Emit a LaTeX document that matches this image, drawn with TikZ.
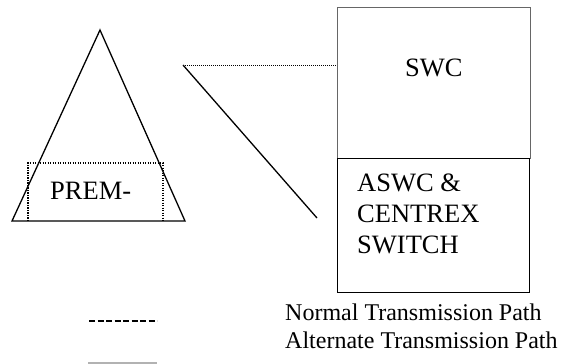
\documentclass[tikz,border=0pt]{standalone}
\usepackage{fontspec}
\setmainfont{Liberation Serif}
\begin{document}
\begin{tikzpicture}[x=1pt,y=-1pt,
  solidline/.style={line width=1.3pt,black},
  dotline/.style={line width=1.2pt,dash pattern=on 1.2pt off 1.3pt},
  boxtext/.style={font=\fontsize{26.5}{31}\selectfont,inner sep=0pt,anchor=base west},
  legtext/.style={font=\fontsize{24}{28}\selectfont,inner sep=0pt,anchor=base west}]
\useasboundingbox (0,0) rectangle (584,364);
% triangle
\coordinate (apex) at (100,30);
\coordinate (bl) at (12,221);
\coordinate (br) at (185,221);
\draw[solidline,line join=miter] (apex) -- (bl) -- (br) -- cycle;
% dotted premises box
\coordinate (pl) at (28,221);
\coordinate (pr) at (163,221);
\draw[dotline] (pl) -- (28,163) -- (163,163) -- (pr);
\node[boxtext] (prem) at (50,199) {PREM-};
% SWC box
\node[draw=gray!80!black,line width=0.8pt,minimum width=193pt,minimum height=151pt,anchor=north west,inner sep=0pt] (swc) at (337,7) {};
\node[boxtext] (swctext) at (405,76) {SWC};
\node[draw=black,line width=1pt,minimum width=192pt,minimum height=134pt,anchor=north west,inner sep=0pt] (aswc) at (337,158) {};
\node[boxtext,align=left,anchor=north west] (aswctext) at (357,174) {ASWC \&\\CENTREX\\SWITCH};
% connectors
\coordinate (hub) at (183,65);
\coordinate (swcin) at (337,65);
\coordinate (altend) at (317,218);
\draw[dotline,line width=1pt,dash pattern=on 1pt off 1pt] (hub) -- (swcin);
\draw[solidline] (hub) -- (altend);
% legend
\coordinate (n1) at (89,321);
\coordinate (n2) at (157,321);
\draw[line width=1.4pt,dash pattern=on 6pt off 2.5pt] (n1) -- (n2);
\node[legtext] (normal) at (285,320) {Normal Transmission Path};
\coordinate (a1) at (88,363);
\coordinate (a2) at (157,363);
\draw[line width=2pt,gray!60] (a1) -- (a2);
\node[legtext] (alt) at (285,348) {Alternate Transmission Path};
\end{tikzpicture}
\end{document}
